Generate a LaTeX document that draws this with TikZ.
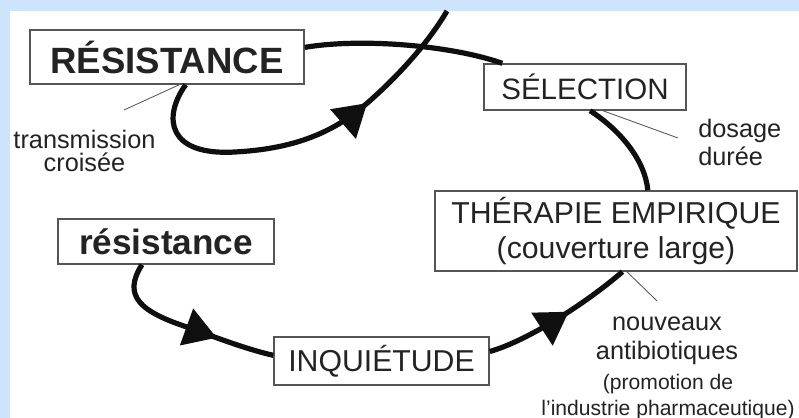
\documentclass[tikz,border=0pt]{standalone}
\usepackage{fontspec}
\setmainfont{Liberation Sans}
\usetikzlibrary{arrows.meta,decorations.markings}
\definecolor{FondBleu}{RGB}{206,228,252}
\definecolor{Trait}{RGB}{15,15,15}
\definecolor{Cadre}{RGB}{85,85,85}
\definecolor{Texte}{RGB}{35,35,35}
\tikzset{
  etatbox/.style={draw=Cadre, line width=1pt, fill=white, text=Texte,
    minimum width=#1, minimum height=1.15cm, inner sep=0pt,
    font=\fontsize{25}{28}\selectfont\bfseries},
  etatbox/.default=5.4cm,
  etapebox/.style={draw=Cadre, line width=1pt, fill=white, text=Texte,
    minimum width=#1, minimum height=1.15cm, inner sep=0pt, align=center,
    font=\fontsize{21.5}{25}\selectfont},
  etapebox/.default=5.05cm,
  notetext/.style={text=Texte, inner sep=0pt, align=center,
    font=\fontsize{18}{20.5}\selectfont},
  cyclearr/.style={draw=Trait, line width=3.7pt},
  midarrow/.style={postaction={decorate, decoration={markings,
    mark=at position #1 with {\arrow[Trait]{Triangle[length=0.8cm, width=0.95cm]}}}}},
  leaderline/.style={draw=Cadre, line width=0.6pt},
}

\begin{document}
\begin{tikzpicture}[x=0.025cm, y=-0.025cm]
    \useasboundingbox (0,0) rectangle (799,418);
    \fill[FondBleu] (0,0) rectangle (799,418);
    \fill[white] (10,11) rectangle (799,418);

    % les cases
    \node[etatbox=6.85cm, minimum height=1.35cm, font=\fontsize{26}{28}\selectfont\bfseries]
      (RES) at (167,57) {RÉSISTANCE};
    \node[etapebox, font=\fontsize{21}{25}\selectfont] (SEL) at (585,87) {SÉLECTION};
    \node[etapebox=9.05cm, minimum height=2cm] (THE) at (616,231)
      {THÉRAPIE EMPIRIQUE\\(couverture large)};
    \node[etatbox, minimum height=1.125cm] (res) at (166,241.5) {résistance};
    \node[etapebox=5.375cm, minimum height=1.2cm] (INQ) at (381.5,361) {INQUIÉTUDE};

    % les remarques
    \node[notetext, font=\fontsize{18}{16.5}\selectfont] (trans) at (84.5,151)
      {transmission\\croisée};
    \node[notetext, align=left, anchor=west] (dos) at (698,142.5) {dosage\\durée};
    \node[notetext] (antib) at (667,341) {nouveaux\\antibiotiques};
    \node[notetext, font=\fontsize{15}{18}\selectfont] (promo) at (668,397)
      {(promotion de\\l'industrie pharmaceutique)};

    \coordinate (sortie) at (447,11);
    \coordinate (pTrans) at (124,110);
    \coordinate (pDos) at (678,138);
    \coordinate (pAntib) at (657,301);

    % le cycle
    \draw[cyclearr] (RES.4) .. controls (360,38) and (450,45) .. (SEL.164);
    \draw[cyclearr, midarrow=0.68] (RES.-56) .. controls (162,118) and (168,156) .. (235,152)
      .. controls (290,149) and (330,135) .. (365,105)
      .. controls (400,75) and (430,40) .. (sortie);
    \draw[cyclearr] (SEL.-78) .. controls (620,130) and (645,160) .. (THE.52);
    \draw[cyclearr, midarrow=0.57] (INQ.5) .. controls (530,340) and (590,300) .. (THE.-81);
    \draw[cyclearr, midarrow=0.68] (res.-136) .. controls (122,296) and (140,312) .. (190,328)
      .. controls (225,341) and (250,350) .. (INQ.177);

    % traits de rappel
    \draw[leaderline] (RES.-66) -- (pTrans);
    \draw[leaderline] (SEL.-53) -- (pDos);
    \draw[leaderline] (THE.-75) -- (pAntib);
  \end{tikzpicture}
\end{document}
